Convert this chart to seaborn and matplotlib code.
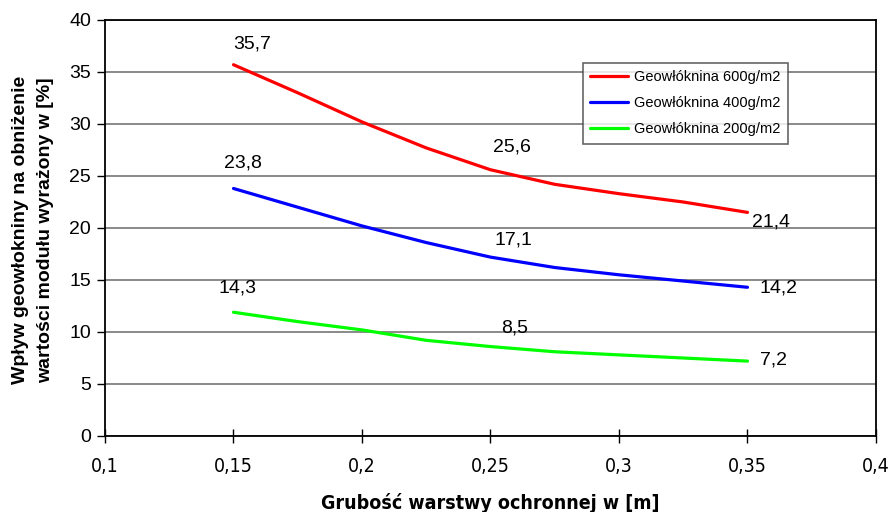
import matplotlib
matplotlib.use("Agg")
import matplotlib.pyplot as plt
from matplotlib import font_manager as fm
import seaborn as sns
import pandas as pd

# data
thickness = [0.15, 0.175, 0.2, 0.225, 0.25, 0.275, 0.3, 0.325, 0.35]
geo600 = [35.7, 33.0, 30.2, 27.7, 25.6, 24.2, 23.3, 22.5, 21.5]
geo400 = [23.8, 22.0, 20.2, 18.6, 17.2, 16.2, 15.5, 14.9, 14.3]
geo200 = [11.9, 11.0, 10.2, 9.2, 8.6, 8.1, 7.8, 7.5, 7.2]
series_names = ["Geowłóknina 600g/m2", "Geowłóknina 400g/m2", "Geowłóknina 200g/m2"]
colors = ["#ff0000", "#0000ff", "#00ff00"]

label_600 = ["35,7", "25,6", "21,4"]
label_400 = ["23,8", "17,1", "14,2"]
label_200 = ["14,3", "8,5", "7,2"]

xticks = [0.1, 0.15, 0.2, 0.25, 0.3, 0.35, 0.4]
xticklabels = ["0,1", "0,15", "0,2", "0,25", "0,3", "0,35", "0,4"]
yticks = [0, 5, 10, 15, 20, 25, 30, 35, 40]

sns.set_theme(style="white")
plt.rcParams['font.family'] = ['Liberation Sans', 'DejaVu Sans']
plt.rcParams['text.color'] = 'black'
plt.rcParams['axes.labelcolor'] = 'black'
plt.rcParams['xtick.color'] = 'black'
plt.rcParams['ytick.color'] = 'black'

# look for a condensed font for the x axis texts
names = {f.name for f in fm.fontManager.ttflist}
if "Liberation Sans Narrow" in names:
    narrow_props = dict(family=["Liberation Sans Narrow", "Liberation Sans"])
else:
    cond = [f for f in fm.fontManager.ttflist if "condensed" in str(f.stretch).lower() or "Condensed" in f.fname]
    if cond:
        narrow_props = dict(family=[cond[0].name, "Liberation Sans"], stretch="condensed")
    else:
        narrow_props = dict(family=["Liberation Sans"])

df = pd.DataFrame({
    "x": thickness * 3,
    "y": geo600 + geo400 + geo200,
    "s": [series_names[0]] * len(thickness) + [series_names[1]] * len(thickness) + [series_names[2]] * len(thickness),
})

fig = plt.figure(figsize=(8.9, 5.12), dpi=100)
ax = fig.add_axes([105 / 890, 1 - 436 / 512, (876 - 105) / 890, (436 - 20) / 512])

sns.lineplot(data=df, x="x", y="y", hue="s", palette=colors, linewidth=2.3, ax=ax, legend=True)

ax.set_xlim(0.1, 0.4)
ax.set_ylim(0, 40)
ax.set_xticks(xticks)
ax.set_xticklabels(xticklabels, fontsize=14, color="black", **narrow_props)
ax.set_yticks(yticks)
ax.set_yticklabels([str(v) for v in yticks], fontsize=14, color="black")
ax.yaxis.grid(True, color="#808080", linewidth=1.3)
ax.set_axisbelow(True)
for sp in ax.spines.values():
    sp.set_color("black")
    sp.set_linewidth(1.3)
ax.tick_params(axis="y", direction="out", length=6, width=1, color="black", labelcolor="black", pad=4)
ax.tick_params(axis="x", direction="inout", length=10, width=1, color="black", labelcolor="black", pad=10)
ax.tick_params(left=True, bottom=True)

ax.set_xlabel("Grubość warstwy ochronnej w [m]", fontsize=14, fontweight="bold", color="black", **narrow_props)
ax.xaxis.set_label_coords((490 - 105) / 771, (436 - 493) / 416)
ax.set_ylabel("Wpływ geowłokniny na obniżenie\nwartości modułu wyrażony w [%]", fontsize=14,
              fontweight="bold", linespacing=1.6, color="black")
ax.yaxis.set_label_coords((54 - 105) / 771, 0.495)

ann = [
    (label_600, [(0.1572, 37.7), (0.2584, 27.8), (0.359, 20.6)]),
    (label_400, [(0.1537, 26.25), (0.2588, 18.85), (0.3619, 14.2)]),
    (label_200, [(0.1514, 14.2), (0.2595, 10.4), (0.360, 7.3)]),
]
for labels, pos in ann:
    for t, (px, py) in zip(labels, pos):
        ax.text(px, py, t, fontsize=14, ha="center", va="center", color="black")

leg = ax.legend(loc="upper left", bbox_to_anchor=((583 - 105) / 771, (436 - 63) / 416),
                frameon=True, fancybox=False, fontsize=10.5, handlelength=2.6,
                borderpad=0.5, labelspacing=0.82, handletextpad=0.4, borderaxespad=0)
leg.get_frame().set_edgecolor("#404040")
leg.get_frame().set_linewidth(1.2)
for t in leg.get_texts():
    t.set_color("black")
for h in leg.get_lines():
    h.set_linewidth(2.3)

fig.savefig("out.png", dpi=100)
